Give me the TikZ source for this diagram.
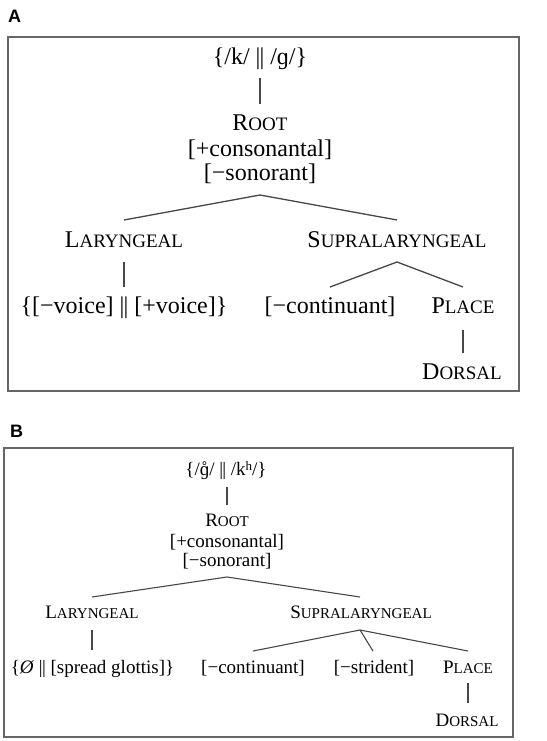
\documentclass[tikz,border=0pt]{standalone}
\usepackage{fontspec}
\setmainfont{Liberation Serif}
\newfontfamily\labfont{Liberation Sans}
\newcommand\fA{\fontsize{24}{28}\selectfont}
\newcommand\fB{\fontsize{19}{22}\selectfont}
\newcommand\scA[2]{#1{\fontsize{19}{22}\selectfont #2}}
\newcommand\scB[2]{#1{\fontsize{15}{18}\selectfont #2}}
\newcommand\dbar{|\kern-0.04em|}
\newcommand\gring{{\ooalign{ɡ\cr\hidewidth˚\hidewidth\cr}}}
\begin{document}
\begin{tikzpicture}[x=1pt,y=-1pt,
  tx/.style={anchor=base,inner sep=0pt},
  lab/.style={anchor=base west,inner sep=0pt,font=\labfont\bfseries\fontsize{18}{20}\selectfont},
  ln/.style={draw=black!72,line width=1.3pt},
  lnb/.style={draw=black!72,line width=1.1pt},
  box/.style={draw=black!60,line width=1.5pt}]
\useasboundingbox (0,0) rectangle (546,741);
% ---------- Panel A ----------
\node[lab] (labA) at (8,23) {A};
\draw[box] (8,37) rectangle (519,391);
\begin{scope}[every node/.append style={font=\fA}]
\node[tx] (topA) at (260,65) {\{/k/ \dbar\ /ɡ/\}};
\node[tx] (rootA) at (260,131) {\scA{R}{OOT}};
\node[tx] (consA) at (260,156) {[+consonantal]};
\node[tx] (sonA) at (260,180) {[−sonorant]};
\node[tx] (larA) at (124,247) {\scA{L}{ARYNGEAL}};
\node[tx] (supA) at (397,247) {\scA{S}{UPRALARYNGEAL}};
\node[tx] (voiceA) at (124,313) {\{[−voice] \dbar\ [+voice]\}};
\node[tx] (contA) at (330,313) {[−continuant]};
\node[tx] (placeA) at (463,313) {\scA{P}{LACE}};
\node[tx] (dorsA) at (462,379) {\scA{D}{ORSAL}};
\end{scope}
\coordinate (a1) at (260,78); \coordinate (a2) at (260,104);
\coordinate (a3) at (260,195); \coordinate (a4) at (124,220); \coordinate (a5) at (397,220);
\coordinate (a6) at (124,262); \coordinate (a7) at (124,287);
\coordinate (a8) at (397,262); \coordinate (a9) at (330,287); \coordinate (a10) at (463,287);
\coordinate (a11) at (463,330); \coordinate (a12) at (463,353);
\draw[ln] (a1) -- (a2);
\draw[ln] (a4) -- (a3) -- (a5);
\draw[ln] (a6) -- (a7);
\draw[ln] (a9) -- (a8) -- (a10);
\draw[ln] (a11) -- (a12);
% ---------- Panel B ----------
\node[lab] (labB) at (10,437) {B};
\draw[box] (4,448) rectangle (513,737);
\begin{scope}[every node/.append style={font=\fB}]
\node[tx] (topB) at (226,475) {\{/\gring/ \dbar\ /k\raisebox{0.55ex}{\fontsize{13}{14}\selectfont h}/\}};
\node[tx] (rootB) at (227,526) {\scB{R}{OOT}};
\node[tx] (consB) at (227,547) {[+consonantal]};
\node[tx] (sonB) at (227,566) {[−sonorant]};
\node[tx] (larB) at (92,618) {\scB{L}{ARYNGEAL}};
\node[tx] (supB) at (361,618) {\scB{S}{UPRALARYNGEAL}};
\node[tx] (glotB) at (92.5,673) {\{\textit{Ø} \dbar\ [spread glottis]\}};
\node[tx] (contB) at (253,673) {[−continuant]};
\node[tx] (stridB) at (374,673) {[−strident]};
\node[tx] (placeB) at (468,673) {\scB{P}{LACE}};
\node[tx] (dorsB) at (467,726) {\scB{D}{ORSAL}};
\end{scope}
\coordinate (b1) at (227,487); \coordinate (b2) at (227,505);
\coordinate (b3) at (227,577); \coordinate (b4) at (92,597); \coordinate (b5) at (360,597);
\coordinate (b6) at (92,630); \coordinate (b7) at (92,650);
\coordinate (b8) at (360,630); \coordinate (b9) at (253,651); \coordinate (b10) at (373,651); \coordinate (b11) at (468,651);
\coordinate (b12) at (468,683); \coordinate (b13) at (468,703);
\draw[lnb] (b1) -- (b2);
\draw[lnb] (b4) -- (b3) -- (b5);
\draw[lnb] (b6) -- (b7);
\draw[lnb] (b9) -- (b8) -- (b11);
\draw[lnb] (b8) -- (b10);
\draw[lnb] (b12) -- (b13);
\end{tikzpicture}
\end{document}
